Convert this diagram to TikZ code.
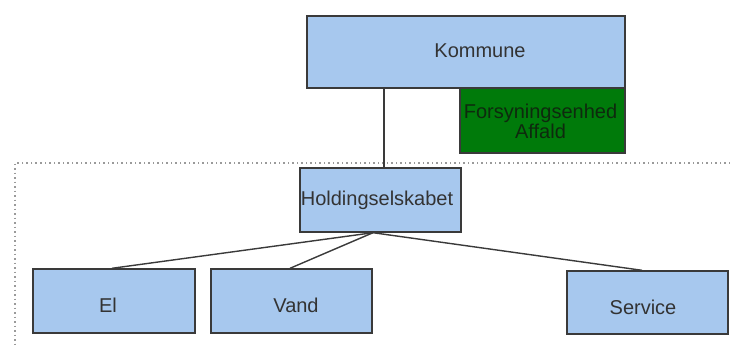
\documentclass[tikz,border=0pt]{standalone}
\usepackage{fontspec}
\setmainfont{Liberation Sans}
\definecolor{boxblue}{HTML}{A7C8EE}
\definecolor{boxline}{HTML}{3A3A3A}
\definecolor{txt}{HTML}{333333}
\definecolor{darkgreen}{HTML}{007A0A}
\definecolor{greentxt}{HTML}{0E2A0E}
\definecolor{dotgray}{HTML}{9A9A9A}
\begin{document}
\begin{tikzpicture}[x=1pt,y=-1pt,
  bluebox/.style={draw=boxline, line width=1.4pt, fill=boxblue, inner sep=0pt},
  greenbox/.style={draw=boxline, line width=1.4pt, fill=darkgreen, inner sep=0pt},
  lbl/.style={text=txt, inner sep=0pt, font=\fontsize{20}{22}\selectfont},
  glbl/.style={text=greentxt, inner sep=0pt, align=center, font=\fontsize{20}{17}\selectfont},
  link/.style={draw=boxline, line width=1.4pt},
  sep/.style={draw=dotgray, line width=1.5pt, dash pattern=on 1.5pt off 3pt}]
\useasboundingbox[fill=white] (0,0) rectangle (730,345);
\coordinate (dl) at (15,163);
\coordinate (dr) at (730,163);
\coordinate (db) at (15,345);
\draw[sep] (dr) -- (dl) -- (db);
\node[bluebox, minimum width=318pt, minimum height=72pt] (k) at (466,52) {};
\node[lbl] (kt) at ([xshift=14pt,yshift=1pt]k.center) {Kommune};
\node[bluebox, minimum width=161pt, minimum height=64pt] (h) at (380.5,200) {};
\node[lbl] (ht) at ([xshift=-3.5pt]h.center) {Holdingselskabet};
\node[bluebox, minimum width=162pt, minimum height=64pt] (el) at (114,301) {};
\node[lbl] (elt) at ([xshift=-6pt,yshift=-4pt]el.center) {El};
\node[bluebox, minimum width=161pt, minimum height=64pt] (va) at (291.5,301) {};
\node[lbl] (vat) at ([xshift=4.5pt,yshift=-4pt]va.center) {Vand};
\node[bluebox, minimum width=161pt, minimum height=63pt] (se) at (647.5,302.5) {};
\node[lbl] (set) at ([xshift=-4.5pt,yshift=-4.5pt]se.center) {Service};
\node[greenbox, minimum width=165pt, minimum height=65pt] (fa) at (542.5,120.5) {};
\node[glbl] (fat) at ([xshift=-2pt,yshift=-1pt]fa.center) {Forsyningsenhed\\Affald};
\draw[link] ([xshift=-82pt]k.south) -- ([xshift=3.5pt]h.north);
\draw[link] ([xshift=-7.5pt]h.south) -- ([xshift=-2pt]el.north);
\draw[link] ([xshift=-7.5pt]h.south) -- ([xshift=-1.5pt]va.north);
\draw[link] ([xshift=-7.5pt]h.south) -- ([xshift=-5.5pt]se.north);
\end{tikzpicture}
\end{document}
